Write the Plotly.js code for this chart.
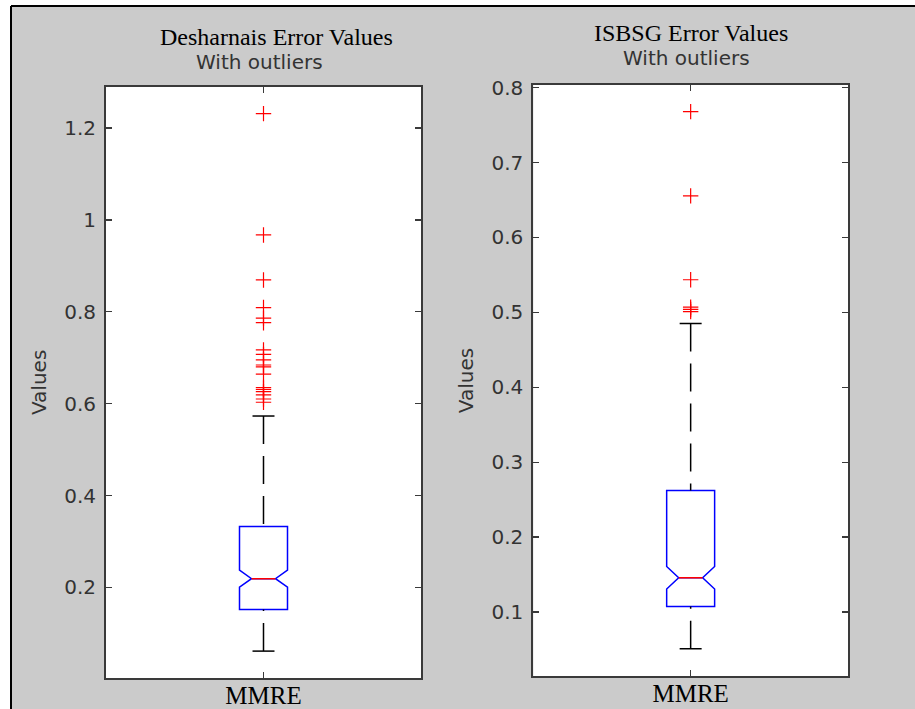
<!DOCTYPE html>
<html><head><meta charset="utf-8">
<script src="https://cdn.plot.ly/plotly-3.0.1.min.js"></script>
<style>html,body{margin:0;padding:0;background:#fff}#chart{width:915px;height:709px}</style>
</head><body><div id="chart"></div>
<script>
// ---- data ----
const categories = ['MMRE'];

const deshTitle = 'Desharnais Error Values';
const deshQ1 = [0.152];
const deshMedian = [0.219];
const deshQ3 = [0.3326];
const deshLowerWhisker = [0.0615];
const deshUpperWhisker = [0.573];
const deshNotchSpan = [0.0185];
const deshOutliers = [1.231, 0.967, 0.869, 0.809, 0.786, 0.776, 0.717, 0.707, 0.695, 0.684, 0.680, 0.664, 0.635, 0.631, 0.626, 0.619, 0.610, 0.603];
const deshTickVals = [0.2, 0.4, 0.6, 0.8, 1, 1.2];
const deshRange = [0.003, 1.2895];

const isbsgTitle = 'ISBSG Error Values';
const isbsgQ1 = [0.1076];
const isbsgMedian = [0.1459];
const isbsgQ3 = [0.2623];
const isbsgLowerWhisker = [0.0512];
const isbsgUpperWhisker = [0.4853];
const isbsgNotchSpan = [0.015];
const isbsgOutliers = [0.768, 0.6556, 0.5436, 0.507, 0.504, 0.501];
const isbsgTickVals = [0.1, 0.2, 0.3, 0.4, 0.5, 0.6, 0.7, 0.8];
const isbsgRange = [0.0148, 0.8035];

const subtitle = 'With outliers';
const yTitle = 'Values';

// ---- helpers ----
const W = 915, H = 709;
const px = v => v / W;
const py = v => 1 - v / H;

function makeTraces(xa, ya, q1, med, q3, lw, uw, ns, out) {
  const c = categories[0];
  return [
    {type: 'box', x: categories, q1: q1, median: med, q3: q3,
     lowerfence: q1, upperfence: q3, notched: true, notchspan: ns, notchwidth: 0.25,
     width: 0.1524, whiskerwidth: 0, boxpoints: false,
     line: {color: '#0000ff', width: 1.5}, fillcolor: 'rgba(255,255,255,0)',
     xaxis: xa, yaxis: ya, hoverinfo: 'skip', showlegend: false},
    {type: 'scatter', mode: 'lines', x: [c, c], y: [uw[0], q3[0]],
     line: {color: '#000', width: 1.5, dash: '28px,12px'}, xaxis: xa, yaxis: ya, hoverinfo: 'skip', showlegend: false},
    {type: 'scatter', mode: 'lines', x: [c, c], y: [lw[0], q1[0]],
     line: {color: '#000', width: 1.5, dash: '28px,12px'}, xaxis: xa, yaxis: ya, hoverinfo: 'skip', showlegend: false},
    {type: 'scatter', mode: 'markers', x: [c, c], y: [uw[0], lw[0]],
     marker: {symbol: 'line-ew', size: 15.7, color: '#000', line: {color: '#000', width: 1.5}},
     xaxis: xa, yaxis: ya, hoverinfo: 'skip', showlegend: false},
    {type: 'scatter', mode: 'markers', x: [c], y: med,
     marker: {symbol: 'line-ew', size: 17, color: '#ff0000', line: {color: '#ff0000', width: 1.5}},
     xaxis: xa, yaxis: ya, hoverinfo: 'skip', showlegend: false},
    {type: 'scatter', mode: 'markers', x: out.map(() => c), y: out,
     marker: {symbol: 'cross-thin', size: 11, color: '#ff0000', line: {color: '#ff0000', width: 1.2}},
     xaxis: xa, yaxis: ya, hoverinfo: 'skip', showlegend: false}
  ];
}

const data = [].concat(
  makeTraces('x', 'y', deshQ1, deshMedian, deshQ3, deshLowerWhisker, deshUpperWhisker, deshNotchSpan, deshOutliers),
  makeTraces('x2', 'y2', isbsgQ1, isbsgMedian, isbsgQ3, isbsgLowerWhisker, isbsgUpperWhisker, isbsgNotchSpan, isbsgOutliers)
);

const sans = 'DejaVu Sans, Liberation Sans, sans-serif';
const serif = 'Liberation Serif, Times New Roman, serif';

function xAxis(domain, anchor) {
  return {domain: domain, anchor: anchor, type: 'category', range: [-0.5, 0.5],
    showline: true, mirror: 'ticks', linecolor: '#3a3a3a', linewidth: 2,
    ticks: 'inside', ticklen: 6, tickwidth: 1.5, tickcolor: '#3a3a3a',
    tickfont: {family: serif, size: 25, color: '#000'}, ticklabelstandoff: -6,
    showgrid: false, zeroline: false, fixedrange: true};
}
function yAxis(domain, anchor, range, tickvals) {
  return {domain: domain, anchor: anchor, range: range, tickvals: tickvals,
    showline: true, mirror: 'ticks', linecolor: '#3a3a3a', linewidth: 2,
    ticks: 'inside', ticklen: 6, tickwidth: 1.5, tickcolor: '#3a3a3a',
    tickfont: {family: sans, size: 20, color: '#333'}, ticklabelstandoff: 4,
    title: {text: yTitle, font: {family: sans, size: 20, color: '#333'}, standoff: 12},
    showgrid: false, zeroline: false, fixedrange: true};
}

const layout = {
  width: W, height: H, margin: {l: 0, r: 0, t: 0, b: 0}, autosize: false,
  paper_bgcolor: '#cbcbcb', plot_bgcolor: '#ffffff', showlegend: false,
  xaxis: xAxis([px(106), px(421)], 'y'),
  yaxis: yAxis([py(678), py(86.7)], 'x', deshRange, deshTickVals),
  xaxis2: xAxis([px(533.3), px(848)], 'y2'),
  yaxis2: yAxis([py(676), py(85)], 'x2', isbsgRange, isbsgTickVals),
  shapes: [
    {type: 'rect', xref: 'paper', yref: 'paper', x0: 0, x1: px(11), y0: 0, y1: 1, fillcolor: '#fff', line: {width: 0}},
    {type: 'rect', xref: 'paper', yref: 'paper', x0: 0, x1: 1, y0: py(6), y1: 1, fillcolor: '#fff', line: {width: 0}},
    {type: 'line', xref: 'paper', yref: 'paper', x0: px(11), x1: px(11), y0: 0, y1: py(6), line: {color: '#000', width: 2}},
    {type: 'line', xref: 'paper', yref: 'paper', x0: px(11), x1: 1, y0: py(6), y1: py(6), line: {color: '#000', width: 2}}
  ],
  annotations: [
    {xref: 'paper', yref: 'paper', x: px(276.5), y: py(37), xanchor: 'center', yanchor: 'middle', showarrow: false,
     text: deshTitle, font: {family: serif, size: 24, color: '#000'}},
    {xref: 'paper', yref: 'paper', x: px(259), y: py(62), xanchor: 'center', yanchor: 'middle', showarrow: false,
     text: subtitle, font: {family: sans, size: 20, color: '#333'}},
    {xref: 'paper', yref: 'paper', x: px(690.7), y: py(33), xanchor: 'center', yanchor: 'middle', showarrow: false,
     text: isbsgTitle, font: {family: serif, size: 24, color: '#000'}},
    {xref: 'paper', yref: 'paper', x: px(686.5), y: py(58), xanchor: 'center', yanchor: 'middle', showarrow: false,
     text: subtitle, font: {family: sans, size: 20, color: '#333'}}
  ]
};

Plotly.newPlot('chart', data, layout, {staticPlot: true, displayModeBar: false});
</script>
</body></html>
